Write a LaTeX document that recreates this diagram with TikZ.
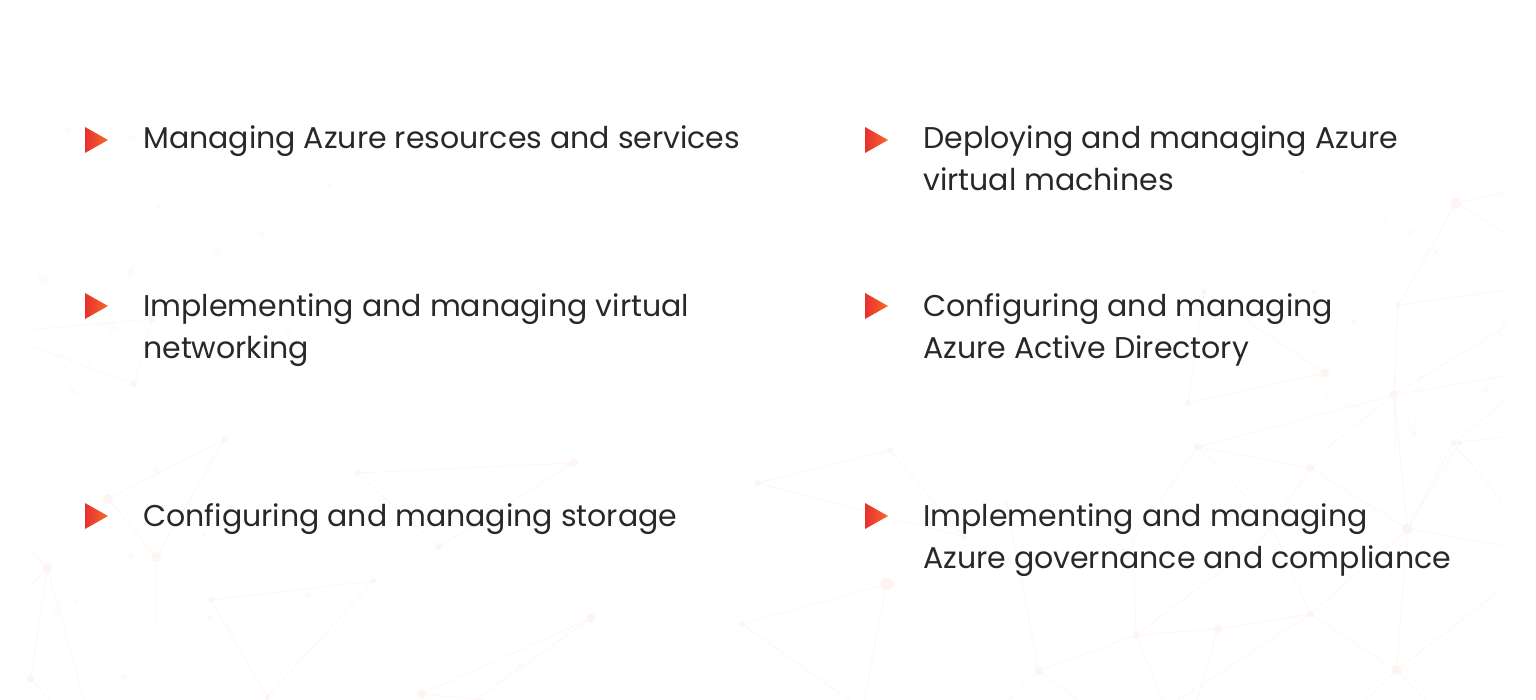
\documentclass[tikz,border=0pt]{standalone}
\usepackage{fontspec}
\setmainfont{Poppins}
\definecolor{ink}{HTML}{282828}
\definecolor{netline}{HTML}{FEF6F3}
\definecolor{netfaint}{HTML}{FEFBFA}
\definecolor{netdot}{HTML}{FEF4F0}
\definecolor{netdotfaint}{HTML}{FEFAF8}
\definecolor{tipA}{HTML}{E8302E}
\definecolor{tipB}{HTML}{F6692A}
\tikzset{
  label text/.style={font=\fontsize{30}{42}\selectfont, text=ink, align=left, anchor=north west, inner sep=0pt, execute at begin node={\rule{0pt}{24pt}}},
  netnode/.style={circle, fill=netdot, inner sep=0pt},
  netnodefaint/.style={circle, fill=netdotfaint, inner sep=0pt},
  netedge/.style={draw=netline, line width=0.9pt},
  netedgefaint/.style={draw=netfaint, line width=0.8pt},
  tip/.style={left color=tipA, right color=tipB}
}
\begin{document}
\begin{tikzpicture}[x=1pt,y=-1pt]
\useasboundingbox (0,0) rectangle (1536,700);
\begin{scope}
\clip (27,100) rectangle (1506,700);
% network nodes: x/y/diameter
\foreach \x/\y/\d in {
 227/439/6,109/499/10,158/557/10,48/568/10,31/679/7,85/700/0.1,27/590/0.1,27/548/0.1,50/700/0.1,
 213/600/6,377/581/5,270/697/6,361/473/6,579/463/9,443/547/7,426/694/9,597/618/9,480/700/0.1,490/700/0.1,
 891/450/6,758/483/6,966/537/6,1201/447/8,1314/468/8,1412/529/11,1464/443/5,888/584/13,742/624/6,
 1139/635/7,1221/629/8,1314/614/7,1041/671/9,1401/670/10,1506/545/0.1,1506/590/0.1,1135/540/0.1,1273/520/0.1,
 1080/700/0.1,1010/700/0.1,1165/700/0.1,1200/700/0.1,1181/700/0.1,1370/700/0.1,1430/700/0.1,865/700/0.1,850/700/0.1,1265/540/0.1,
 1456/203/11,1398/305/5,1394/395/9,1325/373/9,1188/403/6,1204/292/5,
 1458/443/5,1506/192/0.1,1506/233/0.1,1506/290/0.1,1506/326/0.1,1506/376/0.1,1506/400/0.1,1506/437/0.1,1506/500/0.1,1329/450/0.1,1400/450/0.1,27/330/0.1,27/345/0.1,152/319/7,134/384/7}
{
  \pgfmathsetmacro\xx{\y>=420 ? (\x<700 ? \x*0.99 : 720+(\x-720)*0.9935) : \x}
  \node[netnode, minimum size=\d pt] (n\x-\y) at (\xx,\y) {};
}
\foreach \x/\y/\d in {
 158/624/4,206/535/5,157/469/5,56/612/4,76/602/4,132/556/7,125/677/7,525/665/5,311/595/6,212/618/5,
 158/207/5,27/230/0.1,41/279/7,131/272/6,217/252/6,263/233/6,113/328/6,72/392/6,260/317/5,288/331/5,170/420/0.1,
 1008/503/4,1411/232/5,1354/322/5,1314/292/5,1385/224/5,1303/172/5,1436/252/4,1503/322/4,1486/390/5,1418/433/6,1421/378/5,1326/395/4,1400/170/0.1,
 67/130/5,133/137/5,330/185/5}
{
  \pgfmathsetmacro\xx{\y>=420 ? (\x<700 ? \x*0.99 : 720+(\x-720)*0.9935) : \x}
  \node[netnodefaint, minimum size=\d pt] (n\x-\y) at (\xx,\y) {};
}
% clearly visible edges
\foreach \a/\b/\c/\e in {
 227/439/109/499,109/499/158/557,158/557/227/439,48/568/31/679,48/568/85/700,48/568/27/590,48/568/27/548,31/679/50/700,
 213/600/377/581,213/600/270/697,270/697/377/581,361/473/579/463,361/473/443/547,443/547/579/463,426/694/597/618,426/694/490/700,597/618/480/700,
 27/330/152/319,27/345/134/384,152/319/134/384,
 891/450/758/483,758/483/966/537,891/450/966/537,1201/447/1314/468,1201/447/1394/395,1314/468/1412/529,1412/529/1506/545,1412/529/1464/443,1412/529/1401/670,1394/395/1412/529,1314/614/1412/529,
 1139/635/1221/629,1221/629/1314/614,1139/635/1041/671,1139/635/1135/540,1041/671/1008/503,1041/671/1080/700,1041/671/1010/700,1139/635/1165/700,1221/629/1200/700,1314/614/1401/670,1314/614/1181/700,1401/670/1506/590,1401/670/1370/700,1401/670/1430/700,
 888/584/742/624,888/584/865/700,742/624/850/700,1314/614/1273/520,1201/447/1273/520,1201/447/1135/540,1139/635/1265/540,1314/468/1265/540,
 1456/203/1506/192,1456/203/1506/233,1456/203/1398/305,1398/305/1506/290,1398/305/1394/395,1394/395/1506/326,1394/395/1506/376,1204/292/1188/403,1204/292/1325/373,1188/403/1325/373,1394/395/1329/450,1394/395/1400/450,
 1458/443/1506/437,1458/443/1506/400,1458/443/1412/529,1458/443/1506/500}
  \draw[netedge] (n\a-\b.center) -- (n\c-\e.center);
% fainter edges
\foreach \a/\b/\c/\e in {
 157/469/206/535,206/535/158/624,158/557/158/624,109/499/56/612,76/602/56/612,
 158/207/41/279,27/230/41/279,158/207/131/272,41/279/131/272,41/279/72/392,41/279/113/328,131/272/113/328,113/328/72/392,158/207/217/252,217/252/263/233,217/252/260/317,263/233/260/317,72/392/170/420,113/328/288/331,
 1394/395/1418/433,1326/395/1418/433,1326/395/1421/378,1421/378/1418/433,1394/395/1421/378,1411/232/1314/292,1411/232/1354/322,1314/292/1354/322,1303/172/1385/224,1385/224/1400/170,1436/252/1506/192,1436/252/1503/322,1503/322/1486/390,1486/390/1506/400,
 67/130/133/137,133/137/27/230,133/137/158/207,330/185/263/233}
  \draw[netedgefaint] (n\a-\b.center) -- (n\c-\e.center);
\end{scope}
% bullets
\foreach \x/\y in {85/140,865/140,85/306,865/306,85/516,865/516}
  \shade[tip] (\x,\y-13) -- (\x+23,\y) -- (\x,\y+13) -- cycle;
% labels
\node[label text] (t1) at (143,124) {Managing Azure resources and services};
\node[label text] (t2) at (923,125) {Deploying and managing Azure\\virtual machines};
\node[label text] (t3) at (143,293) {Implementing and managing virtual\\networking};
\node[label text] (t4) at (923,293) {Configuring and managing\\Azure Active Directory};
\node[label text] (t5) at (143,502) {Configuring and managing storage};
\node[label text] (t6) at (923,503) {Implementing and managing\\Azure governance and compliance};
\end{tikzpicture}
\end{document}
